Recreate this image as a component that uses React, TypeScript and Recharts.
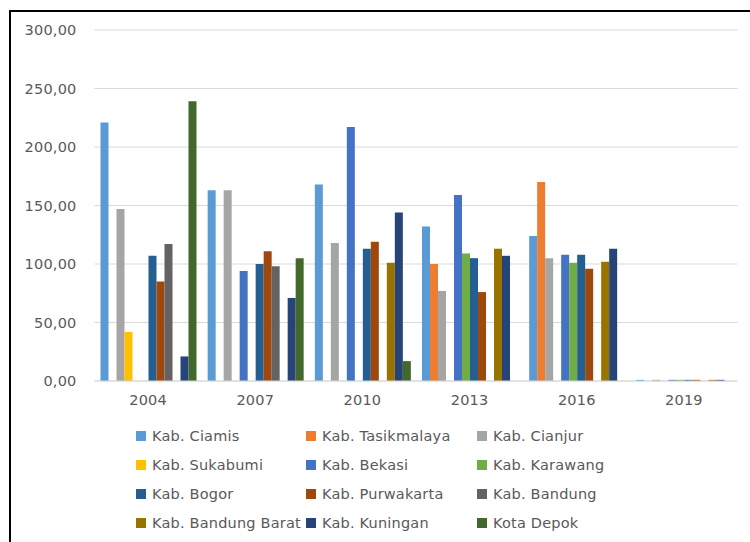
import React from 'react';
import { BarChart, Bar, XAxis, YAxis, CartesianGrid, Legend } from 'recharts';

const years = ['2004', '2007', '2010', '2013', '2016', '2019'];
const yTicks = [0, 50, 100, 150, 200, 250, 300];

const seriesNames = [
  'Kab. Ciamis', 'Kab. Tasikmalaya', 'Kab. Cianjur',
  'Kab. Sukabumi', 'Kab. Bekasi', 'Kab. Karawang',
  'Kab. Bogor', 'Kab. Purwakarta', 'Kab. Bandung',
  'Kab. Bandung Barat', 'Kab. Kuningan', 'Kota Depok',
];
const seriesColors = [
  '#5B9BD5', '#ED7D31', '#A5A5A5',
  '#FFC000', '#4472C4', '#70AD47',
  '#255E91', '#9E480E', '#636363',
  '#997300', '#264478', '#43682B',
];

const ciamis = [221, 163, 168, 132, 124, 1];
const tasikmalaya = [0, 0, 0, 100, 170, 0];
const cianjur = [147, 163, 118, 77, 105, 1];
const sukabumi = [42, 0, 0, 0, 0, 0];
const bekasi = [0, 94, 217, 159, 108, 1];
const karawang = [0, 0, 0, 109, 101, 1];
const bogor = [107, 100, 113, 105, 108, 1];
const purwakarta = [85, 111, 119, 76, 96, 1];
const bandung = [117, 98, 0, 0, 0, 0];
const bandungBarat = [0, 0, 101, 113, 102, 1];
const kuningan = [21, 71, 144, 107, 113, 1];
const kotaDepok = [239, 105, 17, 0, 0, 0];

const seriesValues = [
  ciamis, tasikmalaya, cianjur, sukabumi, bekasi, karawang,
  bogor, purwakarta, bandung, bandungBarat, kuningan, kotaDepok,
];

const data = years.map((y, i) => {
  const row: Record<string, string | number> = { year: y };
  seriesNames.forEach((n, s) => {
    row[n] = seriesValues[s][i];
  });
  return row;
});

const FONT = '"DejaVu Sans", sans-serif';
const TEXT = '#595959';
const FS = 14.5;
const LS = 0.2;

const fmt = (v: number) => v.toFixed(2).replace('.', ',');

const colX = [136, 306, 477];
const rowY = [436, 465, 494, 523];

const LegendContent = () => (
  <div style={{ position: 'relative', width: 750, height: 542 }}>
    {seriesNames.map((n, i) => {
      const c = i % 3;
      const r = Math.floor(i / 3);
      return (
        <div
          key={n}
          style={{
            position: 'absolute',
            left: colX[c],
            top: rowY[r] - 9,
            height: 18,
            display: 'flex',
            alignItems: 'center',
            whiteSpace: 'nowrap',
            fontFamily: FONT,
            fontSize: FS,
            letterSpacing: LS,
            color: TEXT,
          }}
        >
          <span
            style={{
              display: 'inline-block',
              width: 10,
              height: 10,
              background: seriesColors[i],
              marginRight: 6,
            }}
          />
          <span>{n}</span>
        </div>
      );
    })}
  </div>
);

export default function App() {
  return (
    <div style={{ position: 'absolute', left: 0, top: 0, width: 750, height: 542, background: '#fff' }}>
      <BarChart
        width={750}
        height={542}
        data={data}
        margin={{ top: 30, right: 12.5, left: 0, bottom: 0 }}
        barCategoryGap={5.5}
        barGap={0}
      >
        <CartesianGrid vertical={false} stroke="#d9d9d9" strokeWidth={1} />
        <XAxis
          dataKey="year"
          height={161}
          axisLine={{ stroke: '#d9d9d9', strokeWidth: 1 }}
          tickLine={false}
          tickSize={0}
          tickMargin={14}
          tick={{ fill: TEXT, fontSize: FS, fontFamily: FONT, letterSpacing: LS }}
        />
        <YAxis
          width={94.5}
          domain={[0, 300]}
          ticks={yTicks}
          axisLine={false}
          tickLine={false}
          tickSize={0}
          tickMargin={18}
          tickFormatter={fmt}
          tick={{ fill: TEXT, fontSize: FS, fontFamily: FONT, letterSpacing: LS }}
        />
        <Legend
          layout="vertical"
          align="center"
          verticalAlign="middle"
          wrapperStyle={{ position: 'absolute', left: 0, top: 0, width: 750, height: 542 }}
          content={() => <LegendContent />}
        />
        {seriesNames.map((n, i) => (
          <Bar key={n} dataKey={n} fill={seriesColors[i]} barSize={8} isAnimationActive={false} />
        ))}
      </BarChart>
      <div
        style={{
          position: 'absolute',
          left: 9,
          top: 10,
          right: 0,
          bottom: 0,
          borderLeft: '2px solid #000',
          borderTop: '2px solid #000',
          pointerEvents: 'none',
        }}
      />
    </div>
  );
}
